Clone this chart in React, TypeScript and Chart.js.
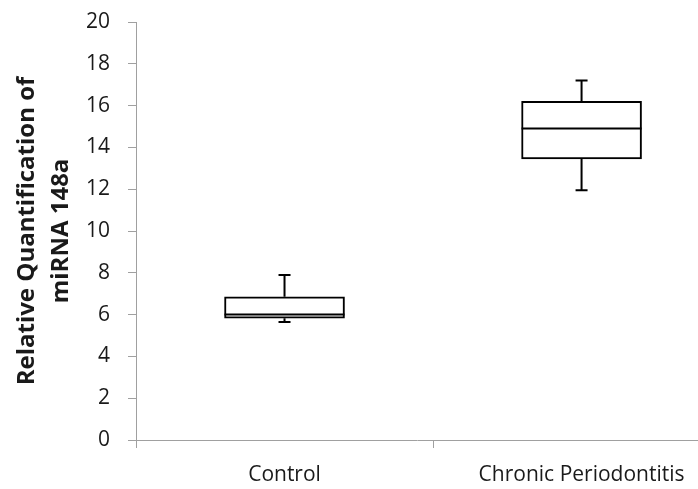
import React, { useEffect, useRef } from "react";
import { Chart, registerables } from "chart.js";

Chart.register(...registerables);

const categories = ["Control", "Chronic Periodontitis"];
const categoryPositions = [1, 2];
const whiskerMax = [7.9, 17.2];
const q3Values = [6.85, 16.2];
const medianValues = [6.0, 14.9];
const q1Values = [5.83, 13.45];
const whiskerMin = [5.65, 11.95];
const yTicks = [0, 2, 4, 6, 8, 10, 12, 14, 16, 18, 20];
const yTitle = ["Relative Quantification of", "miRNA 148a"];

const AXIS_COLOR = "#a0a0a0";
const TEXT_COLOR = "#1a1a1a";

const boxPlugin = {
  id: "boxWhiskers",
  afterDatasetsDraw(chart: any) {
    const { ctx, scales } = chart;
    const xs = scales.x;
    const ys = scales.y;
    const meta = chart.getDatasetMeta(0);
    ctx.save();
    ctx.strokeStyle = "#000";
    ctx.lineWidth = 2;
    ctx.lineCap = "butt";
    categoryPositions.forEach((pos, i) => {
      const cx = xs.getPixelForValue(pos);
      const bar = meta.data[i];
      const half = bar ? bar.width / 2 : 60;
      const yMax = ys.getPixelForValue(whiskerMax[i]);
      const yQ3 = ys.getPixelForValue(q3Values[i]);
      const yMed = ys.getPixelForValue(medianValues[i]);
      const yQ1 = ys.getPixelForValue(q1Values[i]);
      const yMin = ys.getPixelForValue(whiskerMin[i]);
      const cap = 6;
      ctx.beginPath();
      ctx.moveTo(cx, yQ3);
      ctx.lineTo(cx, yMax);
      ctx.moveTo(cx - cap, yMax);
      ctx.lineTo(cx + cap, yMax);
      ctx.moveTo(cx, yQ1);
      ctx.lineTo(cx, yMin);
      ctx.moveTo(cx - cap, yMin);
      ctx.lineTo(cx + cap, yMin);
      ctx.moveTo(cx - half, yMed);
      ctx.lineTo(cx + half, yMed);
      ctx.stroke();
    });
    ctx.restore();
  },
};

export default function App() {
  const canvasRef = useRef<HTMLCanvasElement | null>(null);

  useEffect(() => {
    if (!canvasRef.current) return;
    const chart = new Chart(canvasRef.current, {
      type: "bar",
      data: {
        datasets: [
          {
            data: categoryPositions.map((p, i) => ({ x: p, y: [q1Values[i], q3Values[i]] })) as any,
            backgroundColor: "#ffffff",
            borderColor: "#000000",
            borderWidth: 2,
            borderSkipped: false,
            barThickness: 120,
          },
        ],
      },
      options: {
        responsive: false,
        animation: false,
        events: [],
        layout: { padding: { top: 22, left: 0, right: 0, bottom: 0 } },
        plugins: {
          legend: { display: false },
          tooltip: { enabled: false },
        },
        scales: {
          x: {
            type: "linear",
            offset: false,
            min: 0.5,
            max: 2.392,
            afterBuildTicks: (scale: any) => {
              scale.ticks = [0.5, 1, 1.5, 2].map((v) => ({ value: v }));
            },
            afterFit: (scale: any) => {
              scale.height = 49;
              scale.paddingLeft = 0;
              scale.paddingRight = 0;
            },
            ticks: {
              autoSkip: false,
              maxRotation: 0,
              minRotation: 0,
              padding: 14,
              color: TEXT_COLOR,
              font: { family: "'Open Sans'", size: 21 },
              callback: (v: any) => {
                const idx = categoryPositions.indexOf(Number(v));
                return idx >= 0 ? categories[idx] : "";
              },
            },
            grid: {
              offset: false,
              drawOnChartArea: false,
              drawTicks: true,
              tickLength: 8,
              tickColor: (c: any) =>
                c.tick && Math.abs((c.tick.value % 1) - 0.5) < 1e-6 ? AXIS_COLOR : "rgba(0,0,0,0)",
            },
            border: { color: AXIS_COLOR, width: 1 },
          },
          y: {
            type: "linear",
            min: 0,
            max: 20,
            afterBuildTicks: (scale: any) => {
              scale.ticks = yTicks.map((v) => ({ value: v }));
            },
            afterFit: (scale: any) => {
              scale.width = 136;
              scale.paddingTop = 0;
              scale.paddingBottom = 0;
            },
            ticks: {
              padding: 18,
              color: TEXT_COLOR,
              font: { family: "'Open Sans'", size: 21 },
            },
            grid: {
              drawOnChartArea: false,
              drawTicks: true,
              tickLength: 8,
              tickColor: AXIS_COLOR,
            },
            border: { color: AXIS_COLOR, width: 1 },
            title: {
              display: true,
              text: yTitle,
              color: TEXT_COLOR,
              padding: { top: 11, bottom: 0 },
              font: { family: "'Open Sans'", size: 24, weight: "bold", lineHeight: 1.38 },
            },
          },
        },
      },
      plugins: [boxPlugin],
    } as any);
    return () => chart.destroy();
  }, []);

  return (
    <div style={{ position: "fixed", left: 0, top: 0, width: 698, height: 489, background: "#fff" }}>
      <canvas ref={canvasRef} width={698} height={489} style={{ display: "block" }} />
    </div>
  );
}
